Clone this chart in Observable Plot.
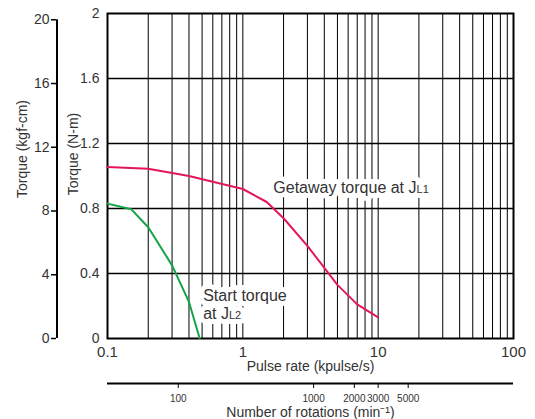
<!DOCTYPE html>
<html><head><meta charset="utf-8">
<script src="https://cdn.jsdelivr.net/npm/d3@7"></script>
<script src="https://cdn.jsdelivr.net/npm/@observablehq/plot@0.6"></script>
<style>body{margin:0;background:#fff}</style>
</head><body><div id="chart"></div>
<script>
// Getaway torque at JL1 (N-m) vs pulse rate (kpulse/s)
const getawayX = [0.1, 0.2, 0.4, 1, 1.5, 2, 3, 5, 7, 10];
const getawayY = [1.055, 1.045, 1.0, 0.92, 0.84, 0.74, 0.57, 0.33, 0.21, 0.13];
// Start torque at JL2
const startX = [0.1, 0.15, 0.2, 0.3, 0.4, 0.48];
const startY = [0.83, 0.795, 0.685, 0.45, 0.225, 0];

const pulseTicks = [0.1, 1, 10, 100];
const torqueNmTicks = [0, 0.4, 0.8, 1.2, 1.6, 2];
const torqueKgfTicks = [0, 4, 8, 12, 16, 20];
const rotationTicks = [100, 1000, 2000, 3000, 5000];
const KGF = 0.0980665;      // N-m per kgf-cm
const RPM_PER_KPPS = 300;   // min^-1 per kpulse/s (200 pulses/rev)

const getaway = getawayX.map((x, i) => ({x, y: getawayY[i]}));
const start = startX.map((x, i) => ({x, y: startY[i]}));
const gridX = d3.scaleLog().domain([0.1, 100]).ticks();
const gridY = torqueNmTicks.slice(1, -1);

const font = "Liberation Sans, Arial, sans-serif";

const labelOpts = {fontSize: 16, fill: "#333"};
const getawayLabel = {x: 1.68, y: 0.9255, textAnchor: "start", ...labelOpts};
const startLabel = {x: 0.509, y: 0.31, textAnchor: "start", lineAnchor: "top", lineHeight: 1.125, ...labelOpts};

const plot = Plot.plot({
  width: 535, height: 419,
  marginLeft: 107, marginRight: 22, marginTop: 13, marginBottom: 81,
  style: {fontFamily: font, fontSize: "14px", color: "#333", background: "#fff"},
  x: {type: "log", domain: [0.1, 100]},
  y: {domain: [0, 2]},
  marks: [
    Plot.ruleX(gridX, {stroke: "#000", strokeWidth: 1}),
    Plot.ruleY(gridY, {stroke: "#000", strokeWidth: 1.5}),
    Plot.frame({stroke: "#000", strokeWidth: 2}),
    // main N-m axis
    Plot.axisY({anchor: "left", ticks: torqueNmTicks, tickSize: 0, tickPadding: 8,
      tickFormat: d => String(+d.toFixed(1)), fontSize: 14, label: null}),
    // kgf-cm axis
    Plot.ruleX([0.1], {y1: 0, y2: 20 * KGF, dx: -50.5, stroke: "#000", strokeWidth: 2}),
    Plot.axisY({anchor: "left", ticks: torqueKgfTicks.map(k => k * KGF), tickSize: 5, tickPadding: 2,
      tickFormat: d => String(Math.round(d / KGF)), dx: -51, fontSize: 14, label: null, stroke: "#000", strokeWidth: 1.5}),
    // pulse rate axis
    Plot.axisX({anchor: "bottom", ticks: pulseTicks, tickSize: 0, tickPadding: 8,
      tickFormat: d => String(d), fontSize: 15, label: null}),
    // rotations axis
    Plot.ruleY([0], {x1: 0.1, x2: 100, dy: 45, stroke: "#000", strokeWidth: 2}),
    Plot.axisX({anchor: "bottom", ticks: rotationTicks.map(r => r / RPM_PER_KPPS), tickSize: 5,
      fill: "none", dy: 45, label: null, stroke: "#000"}),
    Plot.text(rotationTicks, {x: r => r / RPM_PER_KPPS, text: r => String(r), frameAnchor: "bottom",
      lineAnchor: "middle", dy: 60.5, fontSize: 10, fill: "#333", className: "rot-labels"}),
    // axis titles
    Plot.text(["Pulse rate (kpulse/s)"], {frameAnchor: "bottom", lineAnchor: "middle", textAnchor: "middle",
      dy: 28, fontSize: 14, fill: "#333"}),
    Plot.text(["Number of rotations (min⁻¹)"], {frameAnchor: "bottom", lineAnchor: "middle", textAnchor: "middle",
      dy: 74.5, fontSize: 14, fill: "#333"}),
    Plot.text(["Torque (N-m)"], {frameAnchor: "left", textAnchor: "middle", lineAnchor: "middle",
      dx: -34, dy: -22, rotate: -90, fontSize: 14, fill: "#333"}),
    Plot.text(["Torque (kgf-cm)"], {frameAnchor: "left", textAnchor: "middle", lineAnchor: "middle",
      dx: -85, dy: -27, rotate: -90, fontSize: 14, fill: "#333"}),
    // curve label halos (white), then labels
    Plot.text(["Getaway torque at J"], {...getawayLabel, fill: "#fff", stroke: "#fff", strokeWidth: 10}),
    Plot.text(["Start torque\nat J"], {...startLabel, fill: "#fff", stroke: "#fff", strokeWidth: 10}),
    Plot.text(["Getaway torque at J"], getawayLabel),
    Plot.text(["Start torque\nat J"], startLabel),
    // curves
    Plot.line(getaway, {x: "x", y: "y", stroke: "#e3165b", strokeWidth: 2}),
    Plot.line(start, {x: "x", y: "y", stroke: "#12a447", strokeWidth: 2})
  ]
});

// small subscripts L1 / L2
const subs = {"Getaway torque at J": "L1", "at J": "L2"};
plot.querySelectorAll("text, tspan").forEach(el => {
  if (el.children.length === 0 && subs[el.textContent]) {
    const t = document.createElementNS("http://www.w3.org/2000/svg", "tspan");
    t.setAttribute("font-size", "11");
    t.textContent = subs[el.textContent];
    el.appendChild(t);
  }
});
plot.querySelectorAll(".rot-labels text").forEach(el => el.style.fontStretch = "condensed");

document.getElementById("chart").appendChild(plot);
</script>
</body></html>
